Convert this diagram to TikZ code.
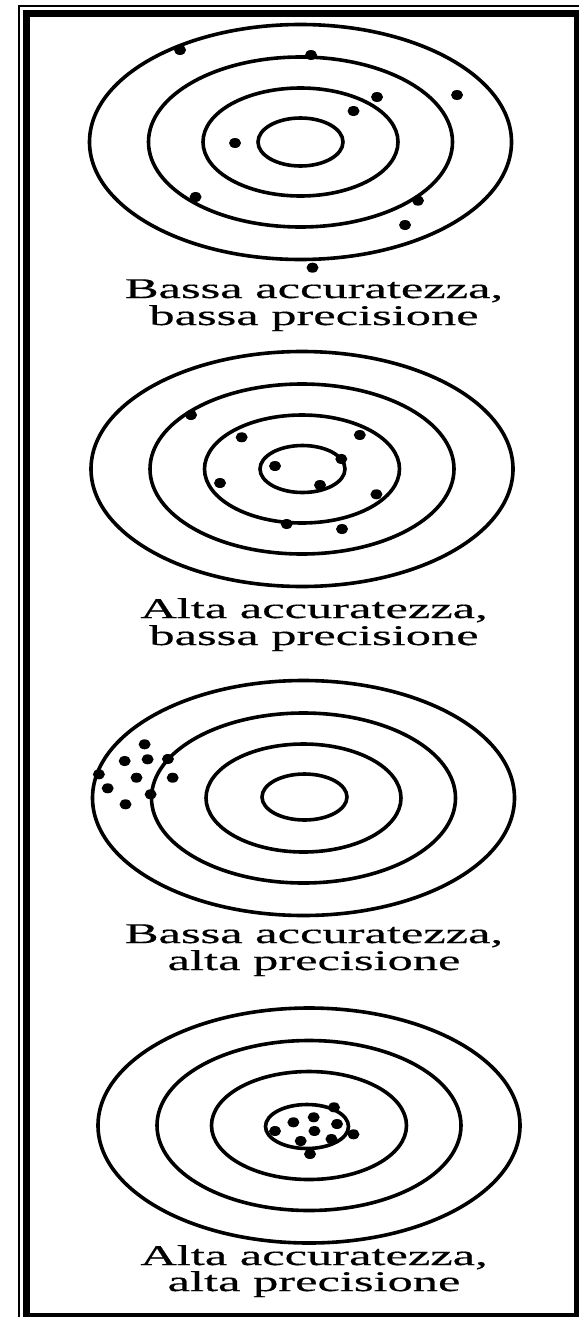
\documentclass[tikz,border=0pt]{standalone}
\usepackage{fontspec}
\setmainfont{Liberation Serif}
\newfontfamily\lblfont{Liberation Serif}[FakeBold=0.4]
\begin{document}
\begin{tikzpicture}[x=1pt,y=-1pt,
  ring/.style={line width=3.6pt},
  dotmark/.style={fill=black},
  lbl/.style={inner sep=0pt, anchor=base, font=\lblfont\fontsize{28.5}{30}\selectfont},
  framethin/.style={line width=2pt},
  framethick/.style={fill=black}]
\useasboundingbox (0,0) rectangle (579,1317);
\fill[white] (0,0) rectangle (579,1317);

% frame
\draw[framethin] (19,1317) -- (19,6) -- (579,6);
\fill[framethick] (23,10) rectangle (30,1317);
\fill[framethick] (23,10) rectangle (579,17);
\fill[framethick] (574,10) rectangle (579,1317);
\fill[framethick] (23,1313) rectangle (579,1317);

% targets
\foreach \cx/\cy in {300.5/142, 302/469, 303.5/798, 309/1125.5}{
  \draw[ring] (\cx,\cy) ellipse [x radius=211, y radius=117.5];
  \draw[ring] (\cx,\cy) ellipse [x radius=152, y radius=85];
  \draw[ring] (\cx,\cy) ellipse [x radius=97.5, y radius=54];
}
\draw[ring] (300.5,142) ellipse [x radius=42.5, y radius=24];
\draw[ring] (302.5,469) ellipse [x radius=42.5, y radius=23.5];
\draw[ring] (304.5,797) ellipse [x radius=42.5, y radius=23];
\draw[ring] (307,1126.5) ellipse [x radius=41.5, y radius=22];

% shots: target 1
\foreach \px/\py in {180/50, 311/55, 377/97, 457/95, 353.5/111, 235/143,
  195.6/197, 418/200.7, 405/225, 312.5/267.7}
  \fill[dotmark] (\px,\py) ellipse [x radius=6, y radius=5];
% target 2
\foreach \px/\py in {191/415, 241.7/437.3, 359.8/435, 341.3/459, 275/466,
  320/485, 220/483, 376.4/494.3, 286.7/524, 342/529}
  \fill[dotmark] (\px,\py) ellipse [x radius=6, y radius=5];
% target 3
\foreach \px/\py in {144.6/744.3, 124.7/761, 147.6/759.3, 167.9/759, 98.9/774.3,
  136.5/777.7, 172.7/777.7, 107.7/788.3, 150.6/794.3, 125.5/804.3}
  \fill[dotmark] (\px,\py) ellipse [x radius=6, y radius=5];
% target 4
\foreach \px/\py in {334/1107.3, 313.7/1117.3, 293.4/1122.3, 337/1124, 314.4/1131,
  275/1131, 353.5/1134.3, 300.7/1141, 331.4/1139, 310/1154}
  \fill[dotmark] (\px,\py) ellipse [x radius=6, y radius=5];

% labels
\node[lbl] (l1a) at (314,298) {\scalebox{1.77}[1]{Bassa accuratezza,}};
\node[lbl] (l1b) at (314,325) {\scalebox{1.77}[1]{bassa precisione}};
\node[lbl] (l2a) at (314,618) {\scalebox{1.77}[1]{Alta accuratezza,}};
\node[lbl] (l2b) at (314,645) {\scalebox{1.77}[1]{bassa precisione}};
\node[lbl] (l3a) at (314,943) {\scalebox{1.77}[1]{Bassa accuratezza,}};
\node[lbl] (l3b) at (314,970) {\scalebox{1.77}[1]{alta precisione}};
\node[lbl] (l4a) at (314,1265) {\scalebox{1.77}[1]{Alta accuratezza,}};
\node[lbl] (l4b) at (314,1291) {\scalebox{1.77}[1]{alta precisione}};
\end{tikzpicture}
\end{document}
